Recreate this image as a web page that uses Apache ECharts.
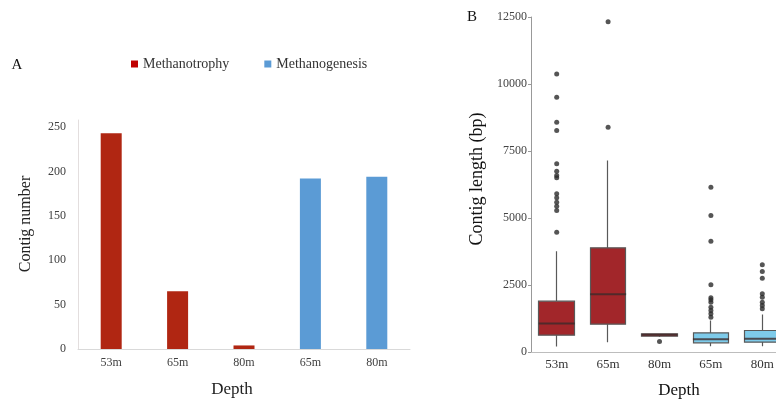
<!DOCTYPE html>
<html>
<head>
<meta charset="utf-8">
<script src="https://cdn.jsdelivr.net/npm/echarts@6/dist/echarts.min.js"></script>
<style>
  html, body { margin: 0; padding: 0; background: #fff; }
  #chart { width: 776px; height: 403px; }
</style>
</head>
<body>
<div id="chart"></div>
<script>
// panel A: contig counts
const depthA = ['53m', '65m', '80m', '65m', '80m'];
const methanotrophy = [243, 65, 4, '-', '-'];
const methanogenesis = ['-', '-', '-', 192, 194];

// panel B: contig length boxplots [min, Q1, median, Q3, max]
const depthB = ['53m', '65m', '80m', '65m', '80m'];
const boxStats = [
  [205, 627, 1063, 1895, 3760],
  [366, 1037, 2156, 3887, 7143],
  [560, 589, 641, 679, 700],
  [216, 343, 478, 716, 1175],
  [216, 366, 492, 802, 1399]
];
const boxColors = ['#a2262a', '#a2262a', '#a2262a', '#7ecbea', '#7ecbea'];
// outliers per box
const outliers53 = [10377, 9504, 8572, 8262, 7020, 6744, 6583, 6498, 5901, 5752, 5588, 5438, 5278, 4469];
const outliers65 = [12327, 8385];
const outliers80 = [390];
const outliersG65 = [6147, 5091, 4133, 2506, 2022, 1947, 1858, 1671, 1548, 1425, 1298];
const outliersG80 = [3252, 3003, 2753, 2171, 2044, 1858, 1734, 1611];

const serif = '"Liberation Serif", "DejaVu Serif", serif';

const outlierData = [];
[outliers53, outliers65, outliers80, outliersG65, outliersG80].forEach(function (list, i) {
  list.forEach(function (v) { outlierData.push([i, v]); });
});

// candlestick: [open, close, lowest, highest] -> box Q1..Q3 with plain whiskers
const boxData = boxStats.map(function (s, i) {
  return {
    value: [s[1], s[3], s[0], s[4]],
    itemStyle: { color: boxColors[i], color0: boxColors[i], borderColor: '#595959', borderColor0: '#595959' }
  };
});
const medianData = boxStats.map(function (s, i) { return [i, s[2]]; });

const chart = echarts.init(document.getElementById('chart'));
chart.setOption({
  animation: false,
  backgroundColor: '#fff',
  textStyle: { fontFamily: serif },
  legend: {
    left: 126, top: 52,
    icon: 'rect', itemWidth: 7, itemHeight: 7, itemGap: 35,
    textStyle: { fontFamily: serif, fontSize: 14, color: '#333' },
    data: [
      { name: 'Methanotrophy', itemStyle: { color: '#c00000' } },
      { name: 'Methanogenesis', itemStyle: { color: '#5b9bd5' } }
    ]
  },
  graphic: [
    { type: 'text', x: 17, y: 65, style: { text: 'A', font: '15px ' + serif, fill: '#111', textAlign: 'center', textVerticalAlign: 'middle' } },
    { type: 'text', x: 472, y: 17, style: { text: 'B', font: '15px ' + serif, fill: '#111', textAlign: 'center', textVerticalAlign: 'middle' } },
    { type: 'text', x: 26, y: 224, rotation: Math.PI / 2, style: { text: 'Contig number', font: '16px ' + serif, fill: '#222', textAlign: 'center', textVerticalAlign: 'middle' } },
    { type: 'text', x: 232, y: 390, style: { text: 'Depth', font: '17px ' + serif, fill: '#222', textAlign: 'center', textVerticalAlign: 'middle' } },
    { type: 'text', x: 477, y: 179, rotation: Math.PI / 2, style: { text: 'Contig length (bp)', font: '18px ' + serif, fill: '#111', textAlign: 'center', textVerticalAlign: 'middle' } },
    { type: 'text', x: 679, y: 391, style: { text: 'Depth', font: '17px ' + serif, fill: '#111', textAlign: 'center', textVerticalAlign: 'middle' } }
  ],
  grid: [
    { left: 78, top: 120, width: 332, height: 229, outerBoundsMode: 'none' },
    { left: 531, top: 17, width: 257, height: 335, outerBoundsMode: 'none' }
  ],
  xAxis: [
    {
      gridIndex: 0, type: 'category', data: depthA,
      axisLine: { lineStyle: { color: '#d9d9d9' } },
      axisTick: { show: false },
      axisLabel: { color: '#404040', fontSize: 12, fontFamily: serif, margin: 8 }
    },
    {
      gridIndex: 1, type: 'category', data: depthB,
      axisLine: { lineStyle: { color: '#bdbdbd' } },
      axisTick: { show: false },
      axisLabel: { color: '#333', fontSize: 13, fontFamily: serif, margin: 6 }
    }
  ],
  yAxis: [
    {
      gridIndex: 0, type: 'value', min: 0, max: 258, interval: 50,
      axisLine: { show: true, lineStyle: { color: '#e3dede' } },
      axisTick: { show: false },
      splitLine: { show: false },
      axisLabel: {
        color: '#404040', fontSize: 12, fontFamily: serif, margin: 12,
        formatter: function (v) { return v % 50 === 0 ? v : ''; }
      }
    },
    {
      gridIndex: 1, type: 'value', min: 0, max: 12500, interval: 2500,
      axisLine: { show: true, lineStyle: { color: '#999' } },
      axisTick: { show: true, length: 3, lineStyle: { color: '#999' } },
      splitLine: { show: false },
      axisLabel: {
        color: '#444', fontSize: 12, fontFamily: serif, margin: 4,
        formatter: function (v) { return String(v); }
      }
    }
  ],
  series: [
    {
      name: 'Methanotrophy', type: 'bar', stack: 'a', xAxisIndex: 0, yAxisIndex: 0,
      barWidth: 21, itemStyle: { color: '#b02612' }, data: methanotrophy
    },
    {
      name: 'Methanogenesis', type: 'bar', stack: 'a', xAxisIndex: 0, yAxisIndex: 0,
      barWidth: 21, itemStyle: { color: '#5b9bd5' }, data: methanogenesis
    },
    {
      type: 'candlestick', xAxisIndex: 1, yAxisIndex: 1,
      barWidth: 36,
      itemStyle: { borderWidth: 1.2 },
      data: boxData
    },
    {
      type: 'scatter', xAxisIndex: 1, yAxisIndex: 1,
      symbol: 'rect', symbolSize: [36, 2],
      itemStyle: { color: '#3d2a2a' },
      data: medianData
    },
    {
      type: 'scatter', xAxisIndex: 1, yAxisIndex: 1,
      symbolSize: 5, itemStyle: { color: '#2b2b2b' },
      data: outlierData
    }
  ]
});
</script>
</body>
</html>
